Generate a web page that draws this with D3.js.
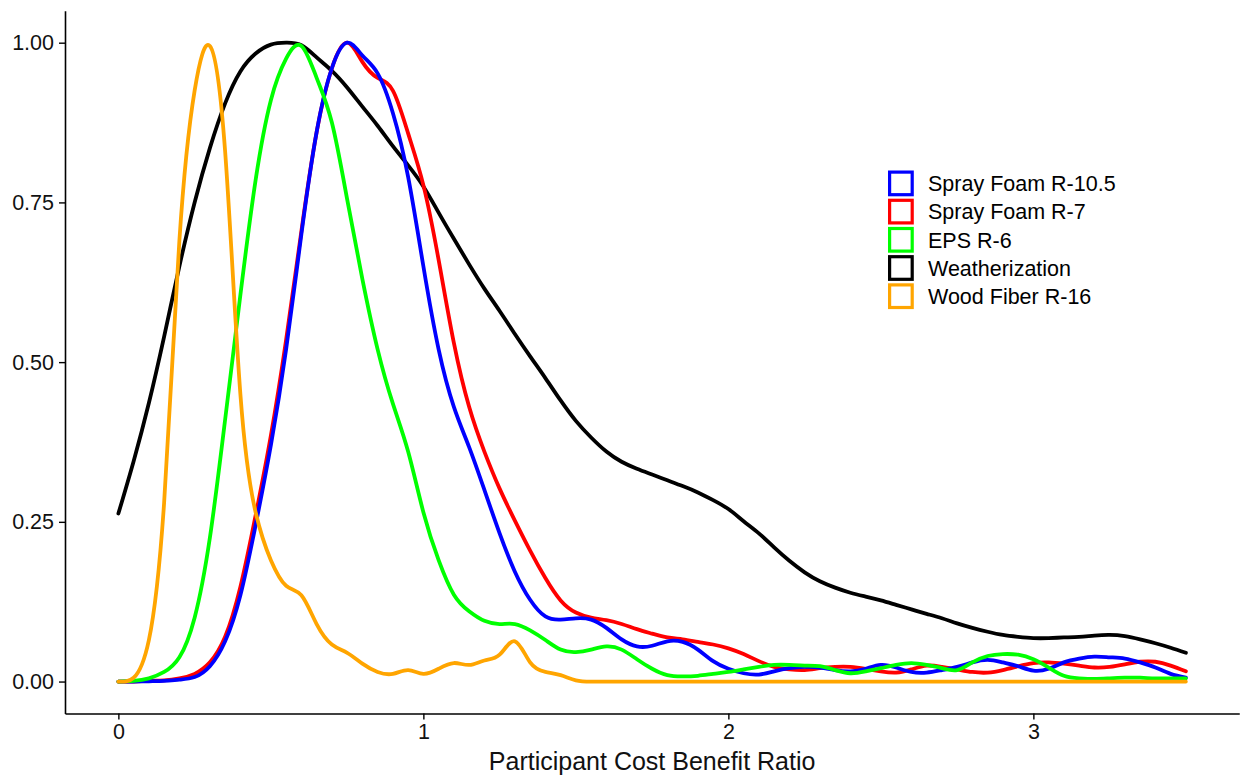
<!DOCTYPE html>
<html>
<head>
<meta charset="utf-8">
<script src="https://cdn.jsdelivr.net/npm/d3@7"></script>
<style>
  body { margin: 0; background: #fff; }
  text { font-family: "Liberation Sans", Arial, sans-serif; }
</style>
</head>
<body>
<div id="chart"></div>
<script>
// density grid (cost benefit ratio)
var xs = [0, 0.05, 0.1, 0.15, 0.2, 0.25, 0.3, 0.35, 0.4, 0.45, 0.5, 0.55, 0.6, 0.65, 0.7, 0.75, 0.8, 0.85, 0.9, 0.95,
  1, 1.05, 1.1, 1.15, 1.2, 1.25, 1.3, 1.35, 1.4, 1.45, 1.5, 1.55, 1.6, 1.65, 1.7, 1.75, 1.8, 1.85, 1.9, 1.95,
  2, 2.05, 2.1, 2.15, 2.2, 2.25, 2.3, 2.35, 2.4, 2.45, 2.5, 2.55, 2.6, 2.65, 2.7, 2.75, 2.8, 2.85, 2.9, 2.95,
  3, 3.05, 3.1, 3.15, 3.2, 3.25, 3.3, 3.35, 3.4, 3.45, 3.5];

var sprayFoam105 = [0, 0, 0.0005, 0.001, 0.003, 0.007, 0.024, 0.063, 0.135, 0.245, 0.37, 0.52, 0.7, 0.86, 0.96, 1.0, 0.98, 0.952, 0.89, 0.79,
  0.65, 0.52, 0.43, 0.367, 0.3, 0.232, 0.172, 0.128, 0.102, 0.097, 0.099, 0.097, 0.084, 0.066, 0.055, 0.056, 0.063, 0.062, 0.05, 0.032,
  0.02, 0.013, 0.011, 0.016, 0.021, 0.023, 0.022, 0.018, 0.016, 0.02, 0.026, 0.022, 0.015, 0.014, 0.018, 0.023, 0.03, 0.034, 0.03, 0.024,
  0.017, 0.02, 0.03, 0.036, 0.039, 0.038, 0.036, 0.03, 0.022, 0.012, 0.006];

var sprayFoam7 = [0, 0, 0.001, 0.002, 0.005, 0.012, 0.03, 0.07, 0.148, 0.26, 0.385, 0.535, 0.705, 0.86, 0.96, 1.0, 0.97, 0.945, 0.925, 0.858,
  0.777, 0.66, 0.53, 0.43, 0.36, 0.302, 0.252, 0.205, 0.162, 0.127, 0.108, 0.1, 0.096, 0.09, 0.082, 0.075, 0.069, 0.066, 0.062, 0.058,
  0.052, 0.043, 0.032, 0.023, 0.019, 0.018, 0.021, 0.023, 0.023, 0.02, 0.016, 0.014, 0.019, 0.025, 0.023, 0.019, 0.015, 0.014, 0.018, 0.024,
  0.029, 0.03, 0.028, 0.025, 0.022, 0.023, 0.027, 0.031, 0.031, 0.025, 0.016];

var eps6 = [0, 0.001, 0.005, 0.015, 0.038, 0.1, 0.225, 0.41, 0.605, 0.785, 0.91, 0.975, 0.995, 0.945, 0.875, 0.755, 0.63, 0.52, 0.435, 0.36,
  0.265, 0.19, 0.136, 0.11, 0.095, 0.09, 0.09, 0.08, 0.065, 0.05, 0.046, 0.05, 0.055, 0.05, 0.035, 0.02, 0.01, 0.008, 0.009, 0.012,
  0.015, 0.019, 0.023, 0.026, 0.026, 0.025, 0.024, 0.018, 0.013, 0.016, 0.021, 0.026, 0.029, 0.026, 0.021, 0.018, 0.03, 0.04, 0.043, 0.042,
  0.035, 0.022, 0.009, 0.005, 0.004, 0.005, 0.006, 0.006, 0.005, 0.005, 0.005];

var weatherization = [0.263, 0.345, 0.436, 0.54, 0.65, 0.75, 0.835, 0.905, 0.955, 0.983, 0.997, 1.0, 0.996, 0.977, 0.956, 0.93, 0.9, 0.87, 0.838, 0.808,
  0.775, 0.734, 0.693, 0.653, 0.615, 0.58, 0.544, 0.509, 0.475, 0.44, 0.408, 0.382, 0.36, 0.344, 0.333, 0.324, 0.315, 0.306, 0.296, 0.284,
  0.27, 0.251, 0.232, 0.21, 0.189, 0.171, 0.157, 0.147, 0.139, 0.133, 0.127, 0.12, 0.113, 0.106, 0.099, 0.091, 0.084, 0.078, 0.073, 0.07,
  0.068, 0.068, 0.069, 0.07, 0.072, 0.073, 0.071, 0.066, 0.06, 0.053, 0.045];

var woodFiber16 = [0, 0.006, 0.065, 0.28, 0.69, 0.925, 0.995, 0.83, 0.45, 0.265, 0.19, 0.15, 0.135, 0.09, 0.058, 0.045, 0.028, 0.015, 0.012, 0.018,
  0.012, 0.02, 0.029, 0.026, 0.033, 0.042, 0.063, 0.03, 0.015, 0.01, 0.002, 0, 0, 0, 0, 0, 0, 0, 0, 0,
  0, 0, 0, 0, 0, 0, 0, 0, 0, 0, 0, 0, 0, 0, 0, 0, 0, 0, 0, 0,
  0, 0, 0, 0, 0, 0, 0, 0, 0, 0, 0];

var seriesNames = ["Spray Foam R-10.5", "Spray Foam R-7", "EPS R-6", "Weatherization", "Wood Fiber R-16"];
var seriesValues = [sprayFoam105, sprayFoam7, eps6, weatherization, woodFiber16];
var seriesColors = ["#0000ff", "#ff0000", "#00ff00", "#000000", "#ffa500"];
// drawing order (bottom to top)
var drawOrder = [3, 1, 0, 2, 4];

var xTicks = [0, 1, 2, 3];
var yTicks = [0, 0.25, 0.5, 0.75, 1];

const width = 1241;
const height = 776;
var margin = {top: 10.75, right: 2, bottom: 62.5, left: 65};

var svg = d3.select("#chart")
    .append("svg")
    .attr("width", width)
    .attr("height", height);

// ggplot style 5% expansion
var x = d3.scaleLinear()
    .domain([-0.175, 3.675])
    .range([margin.left, margin.left + 3.85 * 305]);

var y = d3.scaleLinear()
    .domain([-0.05, 1.05])
    .range([height - margin.bottom, margin.top]);

var xAxis = svg.append("g")
    .attr("transform", "translate(0," + y(-0.05) + ")")
    .call(d3.axisBottom(x).tickValues(xTicks).tickFormat(d3.format("d")).tickSizeInner(6).tickSizeOuter(0).tickPadding(4));

var yAxis = svg.append("g")
    .attr("transform", "translate(" + x(-0.175) + ",0)")
    .call(d3.axisLeft(y).tickValues(yTicks).tickFormat(d3.format(".2f")).tickSizeInner(6).tickSizeOuter(0).tickPadding(5));

[xAxis, yAxis].forEach(function (ax) {
    ax.select(".domain").attr("stroke", "#000").attr("stroke-width", 1.6);
    ax.selectAll(".tick line").attr("stroke", "#000").attr("stroke-width", 1.4);
    ax.selectAll(".tick text")
        .style("font-size", "21.5px")
        .style("font-family", "'Liberation Sans', Arial, sans-serif")
        .attr("fill", "#111");
});

//axis title
svg.append("text")
    .attr("x", (x(-0.175) + x(3.675)) / 2)
    .attr("y", 770)
    .attr("text-anchor", "middle")
    .style("font-size", "25px")
    .attr("fill", "#111")
    .text("Participant Cost Benefit Ratio");

var line = d3.line()
    .x(function (d) { return x(d[0]); })
    .y(function (d) { return y(d[1]); })
    .curve(d3.curveNatural);

var lines = svg.append("g").attr("class", "lines");

drawOrder.forEach(function (k) {
    var pts = xs.map(function (v, i) { return [v, seriesValues[k][i]]; });
    lines.append("path")
        .datum(pts)
        .attr("d", line)
        .attr("fill", "none")
        .attr("stroke", seriesColors[k])
        .attr("stroke-width", 3.8)
        .attr("stroke-linejoin", "round")
        .attr("stroke-linecap", "round");
});

//legend
var legend = svg.append("g")
    .attr("class", "legend")
    .attr("transform", "translate(888,170.5)");

var keyH = 28.2;

var item = legend.selectAll("g.item")
    .data(seriesNames)
    .enter()
    .append("g")
    .attr("class", "item")
    .attr("transform", function (d, i) { return "translate(0," + i * keyH + ")"; });

item.append("rect")
    .attr("x", 1.6)
    .attr("y", 1.6)
    .attr("width", 22.6)
    .attr("height", 22.6)
    .attr("fill", "#fff")
    .attr("stroke", function (d, i) { return seriesColors[i]; })
    .attr("stroke-width", 3.2);

item.append("text")
    .attr("x", 40)
    .attr("y", 13)
    .attr("dy", "0.36em")
    .style("font-size", "21.5px")
    .attr("fill", "#000")
    .text(function (d) { return d; });
</script>
</body>
</html>
